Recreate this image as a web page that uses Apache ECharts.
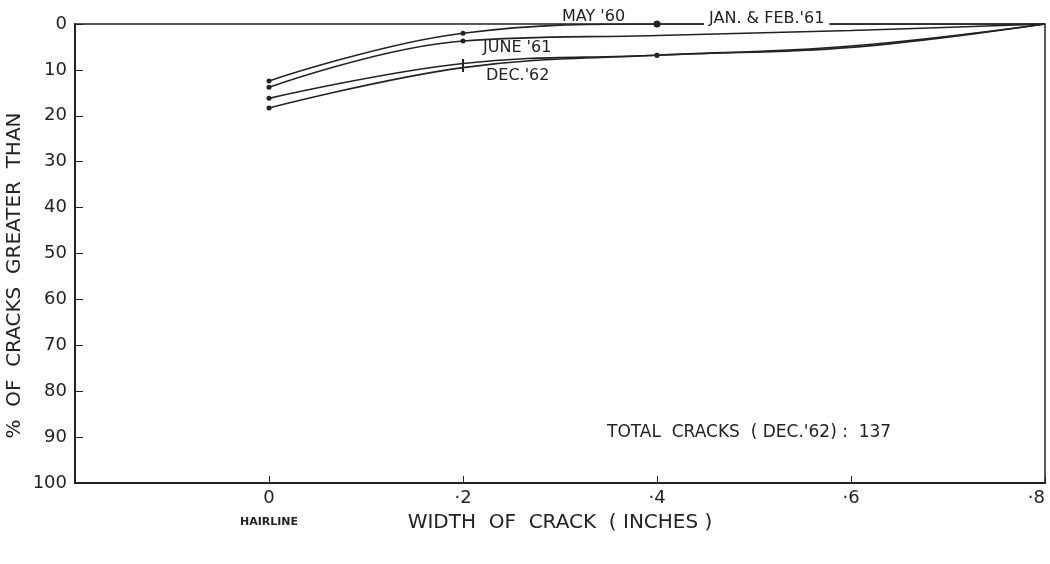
<!DOCTYPE html>
<html>
<head>
<meta charset="utf-8">
<script src="https://cdn.jsdelivr.net/npm/echarts@6/dist/echarts.min.js"></script>
<style>
  html, body { margin: 0; padding: 0; background: #fff; }
  #chart { width: 1050px; height: 564px; }
</style>
</head>
<body>
<div id="chart"></div>
<script>
// crack width (inches) and % of cracks wider than that
const widths = [0, 0.2, 0.4, 0.6, 0.8];
const xTickLabels = { "0": "0", "0.2": "·2", "0.4": "·4", "0.6": "·6", "0.8": "·8" };
const yTicks = [0, 10, 20, 30, 40, 50, 60, 70, 80, 90, 100];

const may60 = [12.4, 2.0, 0, 0, 0];
const janFeb61 = [13.8, 3.7, 2.5, 1.4, 0];
const june61 = [16.2, 8.6, 6.8, 4.8, 0];
const dec62 = [18.3, 9.5, 6.8, 5.1, 0];

const seriesNames = ["MAY '60", "JAN. & FEB.'61", "JUNE '61", "DEC.'62"];
// which points carry a drawn dot on the original
const marked = [
  [true, true, true, false, false],
  [true, true, false, false, false],
  [true, true, true, false, false],
  [true, true, true, false, false],
];

const ink = "#222";
const font = "DejaVu Sans";

function build(values, idx) {
  return values.map((v, i) => {
    const item = { value: [widths[i], v] };
    if (!marked[idx][i]) item.symbolSize = 0;
    // short vertical strokes instead of dots for the two lower curves at .2
    if (idx >= 2 && widths[i] === 0.2) {
      item.symbol = "rect";
      item.symbolSize = [2, 9];
    }
    if (idx === 0 && widths[i] === 0.4) item.symbolSize = 7;
    return item;
  });
}

const chart = echarts.init(document.getElementById("chart"));

const option = {
  animation: false,
  grid: {
    left: 75, right: 5, top: 24, bottom: 81,
    outerBoundsMode: "none",
    containLabel: false,
    show: true, borderColor: ink, borderWidth: 1.5,
  },
  xAxis: {
    type: "value",
    position: "bottom",
    min: -0.2, max: 0.8, interval: 0.2,
    name: "WIDTH  OF  CRACK  ( INCHES )",
    nameLocation: "middle",
    nameMoveOverlap: false,
    nameGap: 30,
    nameTextStyle: { color: ink, fontFamily: font, fontSize: 20 },
    splitLine: { show: false },
    axisLine: { onZero: false, lineStyle: { color: ink, width: 2 } },
    axisTick: { inside: true, length: 7, lineStyle: { color: ink } },
    axisLabel: {
      color: ink, fontFamily: font, fontSize: 18, margin: 6,
      alignMaxLabel: "right",
      formatter: (v) => {
        const k = String(Math.round(v * 10) / 10);
        if (!(k in xTickLabels)) return "";
        return k === "0" ? "0\n{h|HAIRLINE}" : xTickLabels[k];
      },
      rich: {
        h: { fontSize: 11, fontWeight: "bold", fontFamily: font, color: ink, padding: [10, 0, 0, 0] },
      },
    },
  },
  yAxis: {
    type: "value",
    position: "left",
    inverse: true,
    min: 0, max: 100, interval: 10,
    name: "%  OF  CRACKS  GREATER  THAN",
    nameLocation: "middle",
    nameMoveOverlap: false,
    nameGap: 50,
    nameRotate: 90,
    nameTextStyle: { color: ink, fontFamily: font, fontSize: 20, padding: [0, 44, 0, 0] },
    splitLine: { show: false },
    axisLine: { onZero: false, lineStyle: { color: ink, width: 2 } },
    axisTick: { inside: true, length: 8, lineStyle: { color: ink } },
    axisLabel: {
      color: ink, fontFamily: font, fontSize: 18, margin: 8,
      formatter: (v) => (yTicks.includes(v) ? String(v) : ""),
    },
  },
  series: [may60, janFeb61, june61, dec62].map((vals, idx) => ({
    name: seriesNames[idx],
    type: "line",
    smooth: 0.4,
    data: build(vals, idx),
    symbol: "circle",
    symbolSize: 5,
    itemStyle: { color: ink },
    lineStyle: { color: ink, width: 1.6 },
    z: 3,
  })),
  graphic: [
    { type: "text", left: 562, top: 9, z: 10,
      style: { text: "MAY '60", font: "16px " + font, fill: ink } },
    { type: "text", left: 704, top: 11, z: 10,
      style: { text: " JAN. & FEB.'61 ", font: "16px " + font, fill: ink, backgroundColor: "#fff" } },
    { type: "text", left: 483, top: 40, z: 10,
      style: { text: "JUNE '61", font: "16px " + font, fill: ink } },
    { type: "text", left: 486, top: 68, z: 10,
      style: { text: "DEC.'62", font: "16px " + font, fill: ink } },
    { type: "text", left: 607, top: 424, z: 10,
      style: { text: "TOTAL  CRACKS  ( DEC.'62) :  137", font: "17px " + font, fill: ink } },
  ],
};

chart.setOption(option);
</script>
</body>
</html>
